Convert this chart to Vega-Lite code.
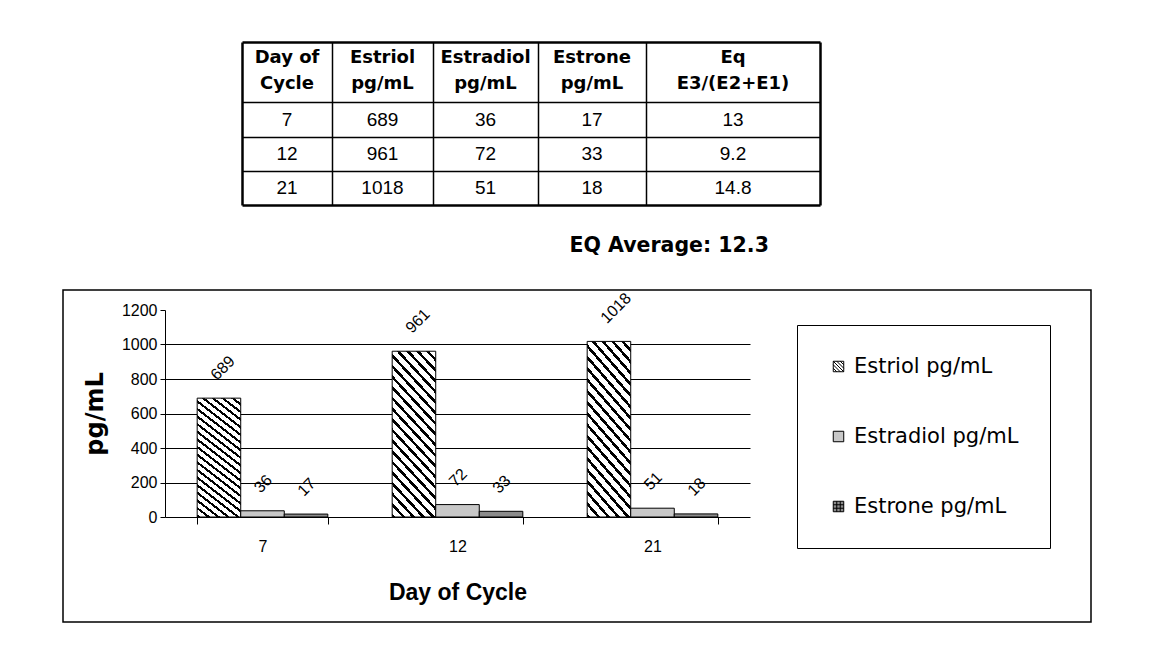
{
  "$schema": "https://vega.github.io/schema/vega-lite/v6.json",
  "autosize": {"type": "pad"},
  "padding": {"left": 62, "top": 0, "right": 0, "bottom": 0},
  "background": "white",
  "bounds": "flush",
  "spacing": 85,
  "datasets": {
    "table": [
      {"r": 0, "c": 0, "t": "Day of\nCycle"},
      {"r": 0, "c": 1, "t": "Estriol\npg/mL"},
      {"r": 0, "c": 2, "t": "Estradiol\npg/mL"},
      {"r": 0, "c": 3, "t": "Estrone\npg/mL"},
      {"r": 0, "c": 4, "t": "Eq\nE3/(E2+E1)"},
      {"r": 1, "c": 0, "t": "7"},
      {"r": 1, "c": 1, "t": "689"},
      {"r": 1, "c": 2, "t": "36"},
      {"r": 1, "c": 3, "t": "17"},
      {"r": 1, "c": 4, "t": "13"},
      {"r": 2, "c": 0, "t": "12"},
      {"r": 2, "c": 1, "t": "961"},
      {"r": 2, "c": 2, "t": "72"},
      {"r": 2, "c": 3, "t": "33"},
      {"r": 2, "c": 4, "t": "9.2"},
      {"r": 3, "c": 0, "t": "21"},
      {"r": 3, "c": 1, "t": "1018"},
      {"r": 3, "c": 2, "t": "51"},
      {"r": 3, "c": 3, "t": "18"},
      {"r": 3, "c": 4, "t": "14.8"}
    ],
    "bars": [
      {"day": 7, "hormone": "Estriol pg/mL", "value": 689},
      {"day": 7, "hormone": "Estradiol pg/mL", "value": 36},
      {"day": 7, "hormone": "Estrone pg/mL", "value": 17},
      {"day": 12, "hormone": "Estriol pg/mL", "value": 961},
      {"day": 12, "hormone": "Estradiol pg/mL", "value": 72},
      {"day": 12, "hormone": "Estrone pg/mL", "value": 33},
      {"day": 21, "hormone": "Estriol pg/mL", "value": 1018},
      {"day": 21, "hormone": "Estradiol pg/mL", "value": 51},
      {"day": 21, "hormone": "Estrone pg/mL", "value": 18}
    ]
  },
  "vconcat": [
    {
      "width": 1028,
      "height": 205,
      "view": {"stroke": null},
      "layer": [
        {
          "data": {"name": "table"},
          "transform": [{"filter": "datum.r == 0"}],
          "mark": {"type": "text", "font": "DejaVu Sans", "fontSize": 18, "fontWeight": "bold", "lineBreak": "\n", "lineHeight": 26, "baseline": "middle", "align": "center", "dy": -14, "color": "black"},
          "encoding": {
            "x": {
              "field": "c", "type": "quantitative",
              "scale": {"domain": [-0.5, 0.5, 1.5, 2.5, 3.5, 4.5], "range": [179, 269, 370, 475, 583, 757], "nice": false, "zero": false},
              "axis": {"orient": "top", "values": [-0.5, 0.5, 1.5, 2.5, 3.5, 4.5], "grid": true, "gridColor": "black", "gridOpacity": 1,
                "gridWidth": {"condition": {"test": "datum.value == -0.5 || datum.value == 4.5", "value": 2.5}, "value": 1.5},
                "labels": false, "ticks": false, "domain": false, "title": null}
            },
            "y": {
              "field": "r", "type": "quantitative",
              "scale": {"domain": [-0.5, 0.5, 1.5, 2.5, 3.5], "range": [42, 102, 137, 171, 205], "nice": false, "zero": false},
              "axis": {"orient": "left", "values": [-0.5, 0.5, 1.5, 2.5, 3.5], "grid": true, "gridColor": "black", "gridOpacity": 1,
                "gridWidth": {"condition": {"test": "datum.value == -0.5 || datum.value == 3.5", "value": 2.5}, "value": 1.5},
                "labels": false, "ticks": false, "domain": false,
                "title": "EQ Average:  12.3", "titleAngle": 0, "titleX": 506, "titleY": 245, "titleAlign": "left", "titleBaseline": "middle",
                "titleFont": "DejaVu Sans", "titleFontSize": 20.5, "titleFontWeight": "bold", "titleColor": "black"}
            },
            "text": {"field": "t"}
          }
        },
        {
          "data": {"name": "table"},
          "transform": [{"filter": "datum.r > 0"}],
          "mark": {"type": "text", "font": "Liberation Sans", "fontSize": 19, "baseline": "middle", "align": "center", "color": "black"},
          "encoding": {
            "x": {"field": "c", "type": "quantitative"},
            "y": {"field": "r", "type": "quantitative"},
            "text": {"field": "t"}
          }
        }
      ]
    },
    {
      "width": 1028,
      "height": 332,
      "view": {"stroke": "black", "strokeWidth": 1.5, "fill": "white"},
      "data": {"name": "bars"},
      "layer": [
        {
          "transform": [{"filter": "datum.hormone == 'Estriol pg/mL'"}],
          "mark": {"type": "bar", "stroke": "black", "strokeWidth": 1,
            "fill": {"gradient": "linear", "x1": 0, "y1": 1, "x2": 0.3375, "y2": -0.188, "stops": [
              {"offset": 0, "color": "black"}, {"offset": 0.0175, "color": "black"}, {"offset": 0.0175, "color": "white"}, {"offset": 0.05, "color": "white"},
              {"offset": 0.05, "color": "black"}, {"offset": 0.0675, "color": "black"}, {"offset": 0.0675, "color": "white"}, {"offset": 0.1, "color": "white"},
              {"offset": 0.1, "color": "black"}, {"offset": 0.1175, "color": "black"}, {"offset": 0.1175, "color": "white"}, {"offset": 0.15, "color": "white"},
              {"offset": 0.15, "color": "black"}, {"offset": 0.1675, "color": "black"}, {"offset": 0.1675, "color": "white"}, {"offset": 0.2, "color": "white"},
              {"offset": 0.2, "color": "black"}, {"offset": 0.2175, "color": "black"}, {"offset": 0.2175, "color": "white"}, {"offset": 0.25, "color": "white"},
              {"offset": 0.25, "color": "black"}, {"offset": 0.2675, "color": "black"}, {"offset": 0.2675, "color": "white"}, {"offset": 0.3, "color": "white"},
              {"offset": 0.3, "color": "black"}, {"offset": 0.3175, "color": "black"}, {"offset": 0.3175, "color": "white"}, {"offset": 0.35, "color": "white"},
              {"offset": 0.35, "color": "black"}, {"offset": 0.3675, "color": "black"}, {"offset": 0.3675, "color": "white"}, {"offset": 0.4, "color": "white"},
              {"offset": 0.4, "color": "black"}, {"offset": 0.4175, "color": "black"}, {"offset": 0.4175, "color": "white"}, {"offset": 0.45, "color": "white"},
              {"offset": 0.45, "color": "black"}, {"offset": 0.4675, "color": "black"}, {"offset": 0.4675, "color": "white"}, {"offset": 0.5, "color": "white"},
              {"offset": 0.5, "color": "black"}, {"offset": 0.5175, "color": "black"}, {"offset": 0.5175, "color": "white"}, {"offset": 0.55, "color": "white"},
              {"offset": 0.55, "color": "black"}, {"offset": 0.5675, "color": "black"}, {"offset": 0.5675, "color": "white"}, {"offset": 0.6, "color": "white"},
              {"offset": 0.6, "color": "black"}, {"offset": 0.6175, "color": "black"}, {"offset": 0.6175, "color": "white"}, {"offset": 0.65, "color": "white"},
              {"offset": 0.65, "color": "black"}, {"offset": 0.6675, "color": "black"}, {"offset": 0.6675, "color": "white"}, {"offset": 0.7, "color": "white"},
              {"offset": 0.7, "color": "black"}, {"offset": 0.7175, "color": "black"}, {"offset": 0.7175, "color": "white"}, {"offset": 0.75, "color": "white"},
              {"offset": 0.75, "color": "black"}, {"offset": 0.7675, "color": "black"}, {"offset": 0.7675, "color": "white"}, {"offset": 0.8, "color": "white"},
              {"offset": 0.8, "color": "black"}, {"offset": 0.8175, "color": "black"}, {"offset": 0.8175, "color": "white"}, {"offset": 0.85, "color": "white"},
              {"offset": 0.85, "color": "black"}, {"offset": 0.8675, "color": "black"}, {"offset": 0.8675, "color": "white"}, {"offset": 0.9, "color": "white"},
              {"offset": 0.9, "color": "black"}, {"offset": 0.9175, "color": "black"}, {"offset": 0.9175, "color": "white"}, {"offset": 0.95, "color": "white"},
              {"offset": 0.95, "color": "black"}, {"offset": 0.9675, "color": "black"}, {"offset": 0.9675, "color": "white"}, {"offset": 1, "color": "white"}
            ]}
          },
          "encoding": {
            "x": {
              "field": "day", "type": "ordinal", "sort": "ascending",
              "scale": {"range": [102, 687], "paddingInner": 0.33, "paddingOuter": 0.165},
              "axis": {"offset": -105, "tickBand": "extent", "tickSize": 7, "tickColor": "black", "tickWidth": 1, "domain": true, "domainColor": "black", "domainWidth": 1,
                "labelAngle": 0, "labelFont": "Liberation Sans", "labelFontSize": 16, "labelColor": "black", "labelPadding": 14,
                "title": "Day of Cycle", "titleFont": "Liberation Sans", "titleFontSize": 23, "titleFontWeight": "bold", "titleColor": "black", "titlePadding": 27}
            },
            "xOffset": {"field": "hormone", "type": "nominal", "sort": ["Estriol pg/mL", "Estradiol pg/mL", "Estrone pg/mL"], "scale": {"domain": ["Estriol pg/mL", "Estradiol pg/mL", "Estrone pg/mL"], "paddingInner": 0, "paddingOuter": 0}},
            "y": {
              "field": "value", "type": "quantitative",
              "scale": {"domain": [0, 1200], "range": [227, 20], "nice": false, "zero": true},
              "axis": {"offset": -102, "values": [0, 200, 400, 600, 800, 1000, 1200], "format": "d", "tickSize": 5, "tickColor": "black", "domain": true, "domainColor": "black",
                "labelFont": "Liberation Sans", "labelFontSize": 16, "labelColor": "black", "labelPadding": 3,
                "grid": true, "gridColor": "black", "gridWidth": 1,
                "gridOpacity": {"condition": {"test": "datum.value == 0 || datum.value == 1200", "value": 0}, "value": 1},
                "title": "pg/mL", "titleFont": "DejaVu Sans", "titleFontSize": 24, "titleFontWeight": "bold", "titleColor": "black", "titlePadding": 14}
            }
          }
        },
        {
          "transform": [{"filter": "datum.hormone != 'Estriol pg/mL'"}],
          "mark": {"type": "bar", "stroke": "black", "strokeWidth": 1},
          "encoding": {
            "x": {"field": "day", "type": "ordinal", "sort": "ascending"},
            "xOffset": {"field": "hormone", "type": "nominal", "sort": ["Estriol pg/mL", "Estradiol pg/mL", "Estrone pg/mL"]},
            "y": {"field": "value", "type": "quantitative"},
            "fill": {
              "field": "hormone", "type": "nominal",
              "scale": {"domain": ["Estriol pg/mL", "Estradiol pg/mL", "Estrone pg/mL"], "range": ["white", "#c8c8c8", "#8c8c8c"]},
              "legend": {
                "orient": "none", "legendX": 734, "legendY": 325, "title": null,
                "padding": 31, "strokeColor": "black", "fillColor": "white",
                "symbolType": "square", "symbolSize": 110, "symbolStrokeColor": "black", "symbolStrokeWidth": 1,
                "labelFont": "DejaVu Sans", "labelFontSize": 21, "labelColor": "black", "labelLimit": 400, "labelOffset": 5,
                "rowPadding": 48,
                "encode": {"symbols": {"update": {"shape": [
                  {"test": "datum.value === 'Estriol pg/mL'", "value": "M-1,-1H1V1H-1Z M-1,-1L1,1 M-0.33,-1L1,0.33 M0.33,-1L1,-0.33 M-1,-0.33L0.33,1 M-1,0.33L-0.33,1"},
                  {"test": "datum.value === 'Estrone pg/mL'", "value": "M-1,-1H1V1H-1Z M-0.33,-1V1 M0.33,-1V1 M-1,-0.33H1 M-1,0.33H1"},
                  {"value": "square"}
                ]}}}
              }
            }
          }
        },
        {
          "mark": {"type": "text", "angle": -45, "align": "left", "baseline": "middle", "dx": 10.7, "dy": -18.5, "font": "Liberation Sans", "fontSize": 16, "color": "black"},
          "encoding": {
            "x": {"field": "day", "type": "ordinal", "sort": "ascending"},
            "xOffset": {"field": "hormone", "type": "nominal", "sort": ["Estriol pg/mL", "Estradiol pg/mL", "Estrone pg/mL"]},
            "y": {"field": "value", "type": "quantitative"},
            "text": {"field": "value", "type": "quantitative"}
          }
        }
      ]
    }
  ],
  "config": {
    "view": {"stroke": null},
    "font": "Liberation Sans"
  }
}
